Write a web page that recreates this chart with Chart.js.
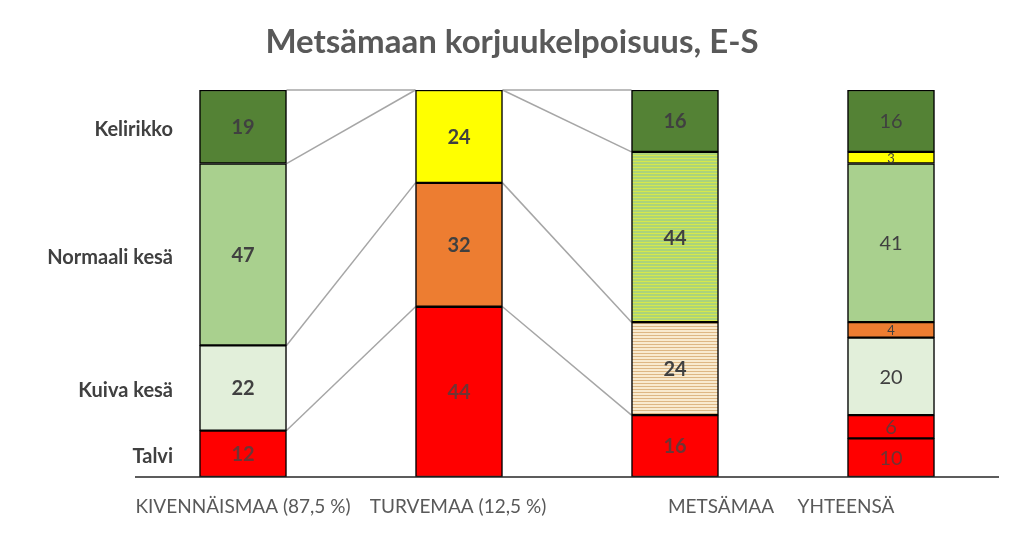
<!DOCTYPE html>
<html lang="fi">
<head>
    <meta charset="UTF-8">
    <title>Metsämaan korjuukelpoisuus, E-S</title>
    <script src="https://cdn.jsdelivr.net/npm/chart.js@4.4.1/dist/chart.umd.min.js"></script>
    <style>
        html, body { margin: 0; padding: 0; background: #fff; }
        #wrap { width: 1024px; height: 533px; }
    </style>
</head>
<body>
<div id="wrap"><canvas id="chart"></canvas></div>
<script>
    const title = 'Metsämaan korjuukelpoisuus, E-S';
    // columns along the x axis
    const categories = ['KIVENNÄISMAA (87,5 %)', 'TURVEMAA (12,5 %)', 'METSÄMAA', 'YHTEENSÄ'];
    // row names shown left of the first column, bottom to top
    const rowLabels = ['Talvi', 'Kuiva kesä', 'Normaali kesä', 'Kelirikko'];

    // segments, stacked bottom up (null = no segment in that column)
    const talvi         = [12, null, 16, 10];
    const talviTurve    = [null, 44, null, 6];
    const kuivaKesa     = [22, null, 24, 20];
    const kuivaTurve    = [null, 32, null, 4];
    const normaaliKesa  = [47, null, 44, 41];
    const normaaliTurve = [null, 24, null, 3];
    const kelirikko     = [19, null, 16, 16];

    // which row (rowLabels index) each dataset belongs to
    const rowOf = [0, 0, 1, 1, 2, 2, 3];

    const ctx = document.getElementById('chart').getContext('2d');

    function stripes(base, line) {
        const c = document.createElement('canvas');
        c.width = 4; c.height = 3;
        const g = c.getContext('2d');
        g.fillStyle = base; g.fillRect(0, 0, 4, 3);
        g.fillStyle = line; g.fillRect(0, 2, 4, 1);
        return ctx.createPattern(c, 'repeat');
    }

    const RED = '#FF0000', PALE = '#E2EFDA', GREEN = '#A9D08E', DARK = '#548235',
          ORANGE = '#ED7D31', YELLOW = '#FFFF00';
    const beigeStripe = stripes('#F8EACF', '#DDB784');
    const greenStripe = stripes('#ACD47A', '#D6E84C');

    const series = [
        { data: talvi, color: [RED, RED, RED, RED] },
        { data: talviTurve, color: [RED, RED, RED, RED] },
        { data: kuivaKesa, color: [PALE, PALE, beigeStripe, PALE] },
        { data: kuivaTurve, color: [ORANGE, ORANGE, ORANGE, ORANGE] },
        { data: normaaliKesa, color: [GREEN, GREEN, greenStripe, GREEN] },
        { data: normaaliTurve, color: [YELLOW, YELLOW, YELLOW, YELLOW] },
        { data: kelirikko, color: [DARK, DARK, DARK, DARK] }
    ];

    const FONT = 'Lato, "Open Sans", sans-serif';

    const decor = {
        id: 'decor',
        beforeDatasetsDraw(chart) {
            // connector lines between the first three columns
            const c = chart.ctx, x = chart.scales.x, y = chart.scales.y;
            const half = chart.getDatasetMeta(0).data[0].width / 2;
            c.save();
            c.strokeStyle = '#A6A6A6';
            c.lineWidth = 1.5;
            for (let j = 0; j < 2; j++) {
                for (let r = 0; r < rowLabels.length; r++) {
                    let a = 0, b = 0;
                    series.forEach((s, d) => {
                        if (rowOf[d] <= r) { a += s.data[j] || 0; b += s.data[j + 1] || 0; }
                    });
                    c.beginPath();
                    c.moveTo(x.getPixelForValue(j) + half, y.getPixelForValue(a));
                    c.lineTo(x.getPixelForValue(j + 1) - half, y.getPixelForValue(b));
                    c.stroke();
                }
            }
            c.restore();
        },
        afterDatasetsDraw(chart) {
            const c = chart.ctx;
            c.save();
            c.textAlign = 'center';
            c.textBaseline = 'middle';
            chart.data.datasets.forEach((ds, d) => {
                chart.getDatasetMeta(d).data.forEach((el, j) => {
                    const v = ds.data[j];
                    if (v === null) return;
                    const size = v < 5 ? 13 : 20;
                    c.font = (j < 3 ? 'bold ' : '') + size + 'px ' + FONT;
                    c.fillStyle = series[d].color[j] === RED ? '#6e3434' : '#404040';
                    c.fillText(String(v), el.x, (el.y + el.base) / 2 + 1);
                });
            });
            c.restore();
        },
        afterDraw(chart) {
            const c = chart.ctx, area = chart.chartArea, x = chart.scales.x;
            c.save();
            // title, centred on the whole canvas
            c.font = 'bold 33px ' + FONT;
            c.fillStyle = '#595959';
            c.textAlign = 'center';
            c.textBaseline = 'middle';
            c.fillText(title, chart.width / 2, 42);

            // baseline
            c.strokeStyle = '#262626';
            c.lineWidth = 1.5;
            c.beginPath();
            c.moveTo(area.left, area.bottom);
            c.lineTo(area.right, area.bottom);
            c.stroke();

            // row names next to the first column
            c.font = 'bold 20px ' + FONT;
            c.fillStyle = '#404040';
            c.textAlign = 'right';
            [0, 2, 4, 6].forEach((d, r) => {
                const el = chart.getDatasetMeta(d).data[0];
                c.fillText(rowLabels[r], 173, (el.y + el.base) / 2 + 3);
            });

            // column labels
            const shift = [0, -1, 46, -45];
            c.font = '19px ' + FONT;
            c.fillStyle = '#595959';
            c.textAlign = 'center';
            categories.forEach((lab, j) => {
                c.fillText(lab, x.getPixelForValue(j) + shift[j], area.bottom + 30);
            });
            c.restore();
        }
    };

    new Chart(ctx, {
        type: 'bar',
        data: {
            labels: categories,
            datasets: series.map(s => ({
                data: s.data,
                backgroundColor: s.color,
                borderColor: '#000',
                borderWidth: 1.5,
                borderSkipped: false,
                barThickness: 87
            }))
        },
        options: {
            responsive: true,
            maintainAspectRatio: false,
            animation: false,
            layout: { padding: { left: 135, right: 25, top: 90, bottom: 56 } },
            scales: {
                x: { stacked: true, display: false },
                y: { stacked: true, display: false, min: 0, max: 100 }
            },
            plugins: {
                legend: { display: false },
                tooltip: { enabled: false }
            }
        },
        plugins: [decor]
    });
</script>
</body>
</html>
